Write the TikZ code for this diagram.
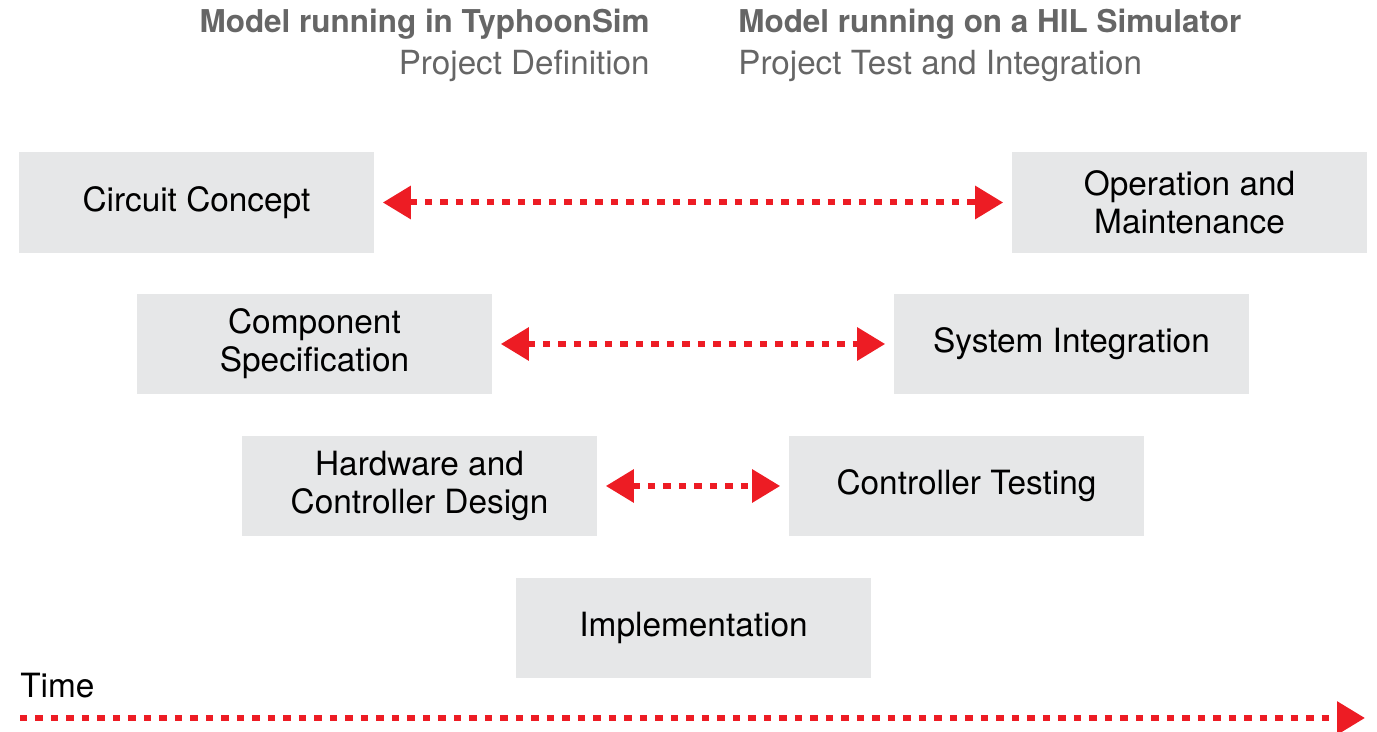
\documentclass[tikz,border=0pt]{standalone}
\usepackage{fontspec}
\setmainfont{TeX Gyre Heros}
\usetikzlibrary{arrows.meta}
\definecolor{boxgray}{HTML}{E6E7E8}
\definecolor{hilred}{HTML}{ED1C24}
\definecolor{headgray}{HTML}{666666}
\tikzset{
  phase/.style={fill=boxgray,minimum width=7.1cm,minimum height=2.02cm,
    align=center,inner sep=0pt,font=\fontsize{19}{21.6}\selectfont},
  heading/.style={text=headgray,inner sep=0pt,font=\fontsize{18.9}{20}\selectfont},
  link/.style={hilred,line width=0.12cm,dash pattern=on 0.15cm off 0.16cm,
    shorten <=0.17cm,shorten >=0.17cm},
  redtip/.tip={Triangle[length=0.56cm,width=0.64cm,fill=hilred]}
}
\begin{document}
\begin{tikzpicture}[x=0.02cm,y=-0.02cm]
  \useasboundingbox (0,0) rectangle (1377,732);
  % headings
  \node[heading,anchor=base east] (defA) at (650,33) {\fontsize{17.9}{20}\selectfont\bfseries Model running in TyphoonSim};
  \node[heading,anchor=base east] (defB) at (650,75) {Project Definition};
  \node[heading,anchor=base west] (testA) at (738,33) {\fontsize{17.9}{20}\selectfont\bfseries Model running on a HIL Simulator};
  \node[heading,anchor=base west] (testB) at (738,75) {Project Test and Integration};
  % phases
  \node[phase] (concept) at (196.5,202.5) {Circuit Concept};
  \node[phase] (operation) at (1189.5,202.5) {Operation and\\Maintenance};
  \node[phase] (component) at (314.5,344) {Component\\Specification};
  \node[phase] (integration) at (1071.5,344) {System Integration};
  \node[phase] (design) at (419.5,486) {Hardware and\\Controller Design};
  \node[phase] (testing) at (966.5,486) {Controller Testing};
  \node[phase] (impl) at (693.5,628) {Implementation};
  % links
  \draw[link,redtip-redtip] (concept) -- (operation);
  \draw[link,redtip-redtip] (component) -- (integration);
  \draw[link,redtip-redtip] (design) -- (testing);
  % time axis
  \node[anchor=base west,inner sep=0pt,font=\fontsize{19}{20}\selectfont] (time) at (20,698) {Time};
  \coordinate (t0) at (20,718);
  \coordinate (t1) at (1365,718);
  \draw[link,shorten <=0pt,shorten >=0pt,-redtip] (t0) -- (t1);
\end{tikzpicture}
\end{document}
